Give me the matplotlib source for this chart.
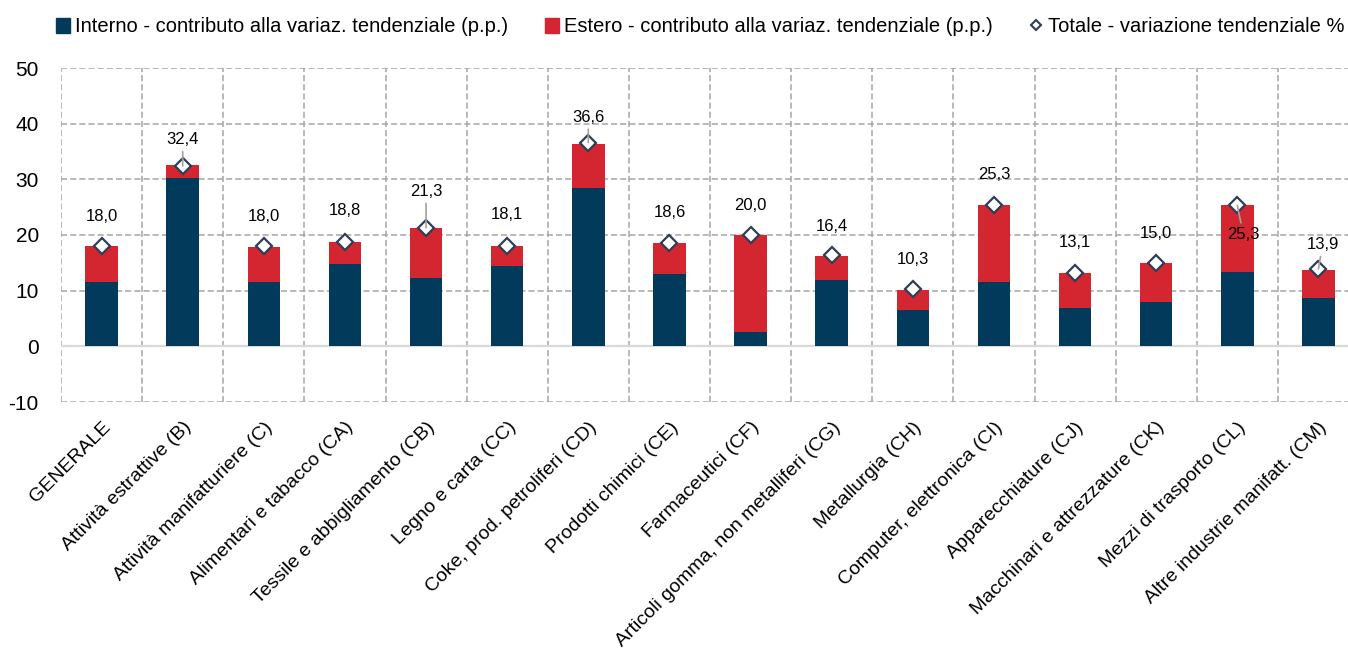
import matplotlib.pyplot as plt
import numpy as np
from matplotlib.patches import Patch
from matplotlib.lines import Line2D

plt.rcParams['font.family'] = ['Liberation Sans', 'DejaVu Sans']
plt.rcParams['axes.unicode_minus'] = False

settori = ["GENERALE", "Attività estrattive (B)", "Attività manifatturiere (C)",
           "Alimentari e tabacco (CA)", "Tessile e abbigliamento (CB)",
           "Legno e carta (CC)", "Coke, prod. petroliferi (CD)",
           "Prodotti chimici (CE)", "Farmaceutici (CF)",
           "Articoli gomma, non metalliferi (CG)", "Metallurgia (CH)",
           "Computer, elettronica (CI)", "Apparecchiature (CJ)",
           "Macchinari e attrezzature (CK)", "Mezzi di trasporto (CL)",
           "Altre industrie manifatt. (CM)"]

interno = [11.6, 30.2, 11.6, 14.8, 12.3, 14.4, 28.4, 13.0, 2.6, 11.9, 6.5, 11.5, 6.9, 8.0, 13.3, 8.7]
estero = [6.4, 2.3, 6.2, 4.0, 9.0, 3.7, 8.0, 5.5, 17.4, 4.4, 3.7, 13.8, 6.2, 6.9, 12.0, 5.1]
totale = [18.0, 32.4, 18.0, 18.8, 21.3, 18.1, 36.6, 18.6, 20.0, 16.4, 10.3, 25.3, 13.1, 15.0, 25.3, 13.9]

# spostamento etichette (pixel) e linee guida
lab_dy = [30, 26, 30, 31, 36, 31, 25, 30, 29, 29, 29, 31, 31, 29, -29, 24]
lab_dx = [0, 0, 0, 0, 0, 0, 0, 0, 0, 0, 0, 0, 0, 0, 6, 4]
guida = [False, True, False, False, True, False, True, False, False, False, False, False, False, False, True, True]

navy = '#023A5B'
rosso = '#D32630'
bordo = '#2F3D57'

fig = plt.figure(figsize=(13.48, 6.52), dpi=100)
ax = fig.add_axes([61/1348, 250/652, 1298/1348, 334/652])

x = np.arange(len(settori))
w = 0.4
ax.bar(x, interno, w, color=navy, zorder=3)
ax.bar(x, estero, w, bottom=interno, color=rosso, zorder=3)
ax.plot(x, totale, ls='none', marker='D', ms=8.5, mfc='white', mec=bordo,
        mew=1.6, zorder=5)

px = 0.72
for i in range(len(x)):
    testo = f"{totale[i]:.1f}".replace('.', ',')
    if guida[i]:
        ax.annotate(testo, (x[i], totale[i]), xytext=(lab_dx[i]*px, lab_dy[i]*px),
                    textcoords='offset points', ha='center', va='center',
                    fontsize=12, color='black', zorder=6,
                    arrowprops=dict(arrowstyle='-', color='#A0A0A0', lw=1.2,
                                    shrinkA=1, shrinkB=0))
    else:
        ax.annotate(testo, (x[i], totale[i]), xytext=(lab_dx[i]*px, lab_dy[i]*px),
                    textcoords='offset points', ha='center', va='center',
                    fontsize=12, color='black', zorder=6)

ax.axhline(0, color='#D9D9D9', lw=1.6, zorder=2)

ax.set_ylim(-10, 50)
ax.set_xlim(-0.5, 15.5)
ax.set_yticks(range(-10, 51, 10))
ax.set_xticks(x)
ax.set_xticks(np.arange(-0.5, 16, 1), minor=True)
ax.set_xticklabels(settori, rotation=45, ha='right', rotation_mode='anchor', fontsize=14)
ax.tick_params(axis='both', which='both', length=0)
ax.tick_params(axis='y', labelsize=15, pad=16)
ax.tick_params(axis='x', pad=12)
ax.grid(axis='y', ls=(0, (4, 2)), color='#A6A6A6', lw=1.1, zorder=0)
ax.grid(axis='x', which='minor', ls=(0, (4, 2)), color='#A6A6A6', lw=1.1, zorder=0)
ax.grid(axis='x', which='major', visible=False)
for s in ax.spines.values():
    s.set_visible(False)

handles = [Patch(color=navy), Patch(color=rosso),
           Line2D([], [], ls='none', marker='D', ms=5.5, mfc='white', mec=bordo, mew=1.5)]
labels = ["Interno - contributo alla variaz. tendenziale (p.p.)",
          "Estero - contributo alla variaz. tendenziale (p.p.)",
          "Totale - variazione tendenziale %"]
fig.legend(handles, labels, ncol=3, frameon=False, loc='center left',
           bbox_to_anchor=(56/1348, 1 - 27/652), fontsize=14.5,
           handlelength=0.7, handleheight=0.7, handletextpad=0.25,
           columnspacing=1.8, borderaxespad=0, borderpad=0)

fig.savefig('out.png', dpi=100)
